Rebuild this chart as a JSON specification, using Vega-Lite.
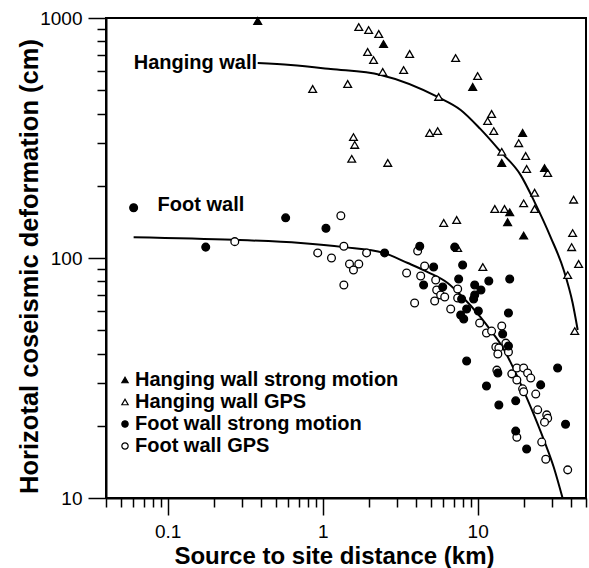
{
  "$schema": "https://vega.github.io/schema/vega-lite/v6.json",
  "width": 480,
  "height": 480,
  "autosize": {"type": "none"},
  "padding": {"left": 106, "top": 18, "right": 3, "bottom": 70},
  "background": "white",
  "config": {
    "view": {"stroke": "black", "strokeWidth": 2},
    "font": "Liberation Sans",
    "axis": {"grid": false}
  },
  "datasets": {
    "curves": [
      {"curve": "Hanging wall", "x": 0.381, "y": 649},
      {"curve": "Hanging wall", "x": 0.622, "y": 637},
      {"curve": "Hanging wall", "x": 1.126, "y": 613},
      {"curve": "Hanging wall", "x": 2.37, "y": 579},
      {"curve": "Hanging wall", "x": 5.52, "y": 469},
      {"curve": "Hanging wall", "x": 7.77, "y": 414},
      {"curve": "Hanging wall", "x": 10.4, "y": 345},
      {"curve": "Hanging wall", "x": 14.1, "y": 277},
      {"curve": "Hanging wall", "x": 18.9, "y": 222},
      {"curve": "Hanging wall", "x": 23.3, "y": 171},
      {"curve": "Hanging wall", "x": 29.6, "y": 122},
      {"curve": "Hanging wall", "x": 35.9, "y": 89.1},
      {"curve": "Hanging wall", "x": 41.0, "y": 64.9},
      {"curve": "Hanging wall", "x": 44.2, "y": 50.1},
      {"curve": "Foot wall", "x": 0.0603, "y": 122},
      {"curve": "Foot wall", "x": 0.267, "y": 119},
      {"curve": "Foot wall", "x": 0.721, "y": 115.5},
      {"curve": "Foot wall", "x": 1.37, "y": 111},
      {"curve": "Foot wall", "x": 2.47, "y": 105},
      {"curve": "Foot wall", "x": 3.54, "y": 95.3},
      {"curve": "Foot wall", "x": 4.76, "y": 87.4},
      {"curve": "Foot wall", "x": 6.40, "y": 78.7},
      {"curve": "Foot wall", "x": 7.77, "y": 70.1},
      {"curve": "Foot wall", "x": 10.4, "y": 56.8},
      {"curve": "Foot wall", "x": 12.1, "y": 50.1},
      {"curve": "Foot wall", "x": 14.7, "y": 41.8},
      {"curve": "Foot wall", "x": 18.1, "y": 31.9},
      {"curve": "Foot wall", "x": 22.0, "y": 23.9},
      {"curve": "Foot wall", "x": 26.7, "y": 17.5},
      {"curve": "Foot wall", "x": 30.9, "y": 13.5},
      {"curve": "Foot wall", "x": 35.3, "y": 10}
    ],
    "points": [
      {"series": "Hanging wall GPS", "x": 1.71, "y": 917},
      {"series": "Hanging wall GPS", "x": 1.98, "y": 891},
      {"series": "Hanging wall GPS", "x": 2.30, "y": 858},
      {"series": "Hanging wall GPS", "x": 1.95, "y": 722},
      {"series": "Hanging wall GPS", "x": 2.13, "y": 668},
      {"series": "Hanging wall GPS", "x": 3.64, "y": 708},
      {"series": "Hanging wall GPS", "x": 7.21, "y": 681},
      {"series": "Hanging wall GPS", "x": 2.44, "y": 596},
      {"series": "Hanging wall GPS", "x": 3.33, "y": 607},
      {"series": "Hanging wall GPS", "x": 10.0, "y": 573},
      {"series": "Hanging wall GPS", "x": 0.862, "y": 506},
      {"series": "Hanging wall GPS", "x": 1.45, "y": 531},
      {"series": "Hanging wall GPS", "x": 5.60, "y": 469},
      {"series": "Hanging wall GPS", "x": 12.3, "y": 398},
      {"series": "Hanging wall GPS", "x": 11.6, "y": 372},
      {"series": "Hanging wall GPS", "x": 12.7, "y": 338},
      {"series": "Hanging wall GPS", "x": 4.90, "y": 332},
      {"series": "Hanging wall GPS", "x": 5.52, "y": 338},
      {"series": "Hanging wall GPS", "x": 1.58, "y": 319},
      {"series": "Hanging wall GPS", "x": 1.61, "y": 296},
      {"series": "Hanging wall GPS", "x": 1.54, "y": 259},
      {"series": "Hanging wall GPS", "x": 2.63, "y": 249},
      {"series": "Hanging wall GPS", "x": 18.4, "y": 301},
      {"series": "Hanging wall GPS", "x": 14.3, "y": 277},
      {"series": "Hanging wall GPS", "x": 20.4, "y": 266},
      {"series": "Hanging wall GPS", "x": 20.7, "y": 235},
      {"series": "Hanging wall GPS", "x": 28.3, "y": 226},
      {"series": "Hanging wall GPS", "x": 23.3, "y": 187},
      {"series": "Hanging wall GPS", "x": 19.8, "y": 169},
      {"series": "Hanging wall GPS", "x": 23.3, "y": 160},
      {"series": "Hanging wall GPS", "x": 41.6, "y": 175},
      {"series": "Hanging wall GPS", "x": 12.9, "y": 160},
      {"series": "Hanging wall GPS", "x": 14.9, "y": 160},
      {"series": "Hanging wall GPS", "x": 6.04, "y": 140},
      {"series": "Hanging wall GPS", "x": 7.32, "y": 144},
      {"series": "Hanging wall GPS", "x": 41.0, "y": 127},
      {"series": "Hanging wall GPS", "x": 40.4, "y": 111},
      {"series": "Hanging wall GPS", "x": 44.8, "y": 94.4},
      {"series": "Hanging wall GPS", "x": 10.8, "y": 91.7},
      {"series": "Hanging wall GPS", "x": 38.1, "y": 84.9},
      {"series": "Hanging wall GPS", "x": 42.3, "y": 49.6},
      {"series": "Hanging wall GPS", "x": 7.43, "y": 110},
      {"series": "Foot wall GPS", "x": 0.271, "y": 117},
      {"series": "Foot wall GPS", "x": 1.31, "y": 150},
      {"series": "Foot wall GPS", "x": 1.37, "y": 112},
      {"series": "Foot wall GPS", "x": 0.929, "y": 105},
      {"series": "Foot wall GPS", "x": 1.14, "y": 100},
      {"series": "Foot wall GPS", "x": 1.49, "y": 94.4},
      {"series": "Foot wall GPS", "x": 1.71, "y": 94.4},
      {"series": "Foot wall GPS", "x": 1.58, "y": 89.1},
      {"series": "Foot wall GPS", "x": 1.37, "y": 77.2},
      {"series": "Foot wall GPS", "x": 1.92, "y": 105},
      {"series": "Foot wall GPS", "x": 4.10, "y": 107},
      {"series": "Foot wall GPS", "x": 3.48, "y": 86.6},
      {"series": "Foot wall GPS", "x": 4.55, "y": 92.6},
      {"series": "Foot wall GPS", "x": 4.29, "y": 84.1},
      {"series": "Foot wall GPS", "x": 5.36, "y": 81.0},
      {"series": "Foot wall GPS", "x": 5.44, "y": 73.6},
      {"series": "Foot wall GPS", "x": 5.77, "y": 70.1},
      {"series": "Foot wall GPS", "x": 6.13, "y": 68.8},
      {"series": "Foot wall GPS", "x": 3.92, "y": 64.9},
      {"series": "Foot wall GPS", "x": 5.28, "y": 66.2},
      {"series": "Foot wall GPS", "x": 6.70, "y": 61.3},
      {"series": "Foot wall GPS", "x": 7.43, "y": 74.3},
      {"series": "Foot wall GPS", "x": 7.43, "y": 68.1},
      {"series": "Foot wall GPS", "x": 10.3, "y": 53.6},
      {"series": "Foot wall GPS", "x": 14.3, "y": 52.1},
      {"series": "Foot wall GPS", "x": 11.4, "y": 48.7},
      {"series": "Foot wall GPS", "x": 12.3, "y": 49.6},
      {"series": "Foot wall GPS", "x": 13.1, "y": 42.6},
      {"series": "Foot wall GPS", "x": 13.7, "y": 42.2},
      {"series": "Foot wall GPS", "x": 13.5, "y": 39.8},
      {"series": "Foot wall GPS", "x": 15.2, "y": 44.2},
      {"series": "Foot wall GPS", "x": 15.8, "y": 40.6},
      {"series": "Foot wall GPS", "x": 16.6, "y": 32.9},
      {"series": "Foot wall GPS", "x": 17.9, "y": 34.8},
      {"series": "Foot wall GPS", "x": 19.8, "y": 34.8},
      {"series": "Foot wall GPS", "x": 21.0, "y": 33.2},
      {"series": "Foot wall GPS", "x": 22.0, "y": 31.6},
      {"series": "Foot wall GPS", "x": 17.9, "y": 31.0},
      {"series": "Foot wall GPS", "x": 19.5, "y": 28.5},
      {"series": "Foot wall GPS", "x": 19.8, "y": 27.7},
      {"series": "Foot wall GPS", "x": 23.7, "y": 27.1},
      {"series": "Foot wall GPS", "x": 24.4, "y": 23.3},
      {"series": "Foot wall GPS", "x": 27.9, "y": 22.2},
      {"series": "Foot wall GPS", "x": 28.3, "y": 21.5},
      {"series": "Foot wall GPS", "x": 27.0, "y": 20.7},
      {"series": "Foot wall GPS", "x": 17.9, "y": 17.9},
      {"series": "Foot wall GPS", "x": 25.9, "y": 17.1},
      {"series": "Foot wall GPS", "x": 27.5, "y": 14.5},
      {"series": "Foot wall GPS", "x": 38.1, "y": 13.1},
      {"series": "Foot wall GPS", "x": 13.3, "y": 34.1},
      {"series": "Hanging wall strong motion", "x": 0.381, "y": 972},
      {"series": "Hanging wall strong motion", "x": 2.47, "y": 779},
      {"series": "Hanging wall strong motion", "x": 9.29, "y": 516},
      {"series": "Hanging wall strong motion", "x": 19.5, "y": 332},
      {"series": "Hanging wall strong motion", "x": 14.3, "y": 249},
      {"series": "Hanging wall strong motion", "x": 27.0, "y": 237},
      {"series": "Hanging wall strong motion", "x": 16.1, "y": 155},
      {"series": "Hanging wall strong motion", "x": 15.6, "y": 141},
      {"series": "Hanging wall strong motion", "x": 19.8, "y": 124},
      {"series": "Foot wall strong motion", "x": 0.0603, "y": 162},
      {"series": "Foot wall strong motion", "x": 0.176, "y": 111},
      {"series": "Foot wall strong motion", "x": 0.577, "y": 147},
      {"series": "Foot wall strong motion", "x": 1.05, "y": 133},
      {"series": "Foot wall strong motion", "x": 2.51, "y": 105},
      {"series": "Foot wall strong motion", "x": 4.23, "y": 112},
      {"series": "Foot wall strong motion", "x": 7.11, "y": 111},
      {"series": "Foot wall strong motion", "x": 5.20, "y": 91.7},
      {"series": "Foot wall strong motion", "x": 4.48, "y": 77.2},
      {"series": "Foot wall strong motion", "x": 5.95, "y": 75.7},
      {"series": "Foot wall strong motion", "x": 8.0, "y": 93.5},
      {"series": "Foot wall strong motion", "x": 7.54, "y": 81.7},
      {"series": "Foot wall strong motion", "x": 11.8, "y": 80.2},
      {"series": "Foot wall strong motion", "x": 16.1, "y": 81.7},
      {"series": "Foot wall strong motion", "x": 9.57, "y": 77.2},
      {"series": "Foot wall strong motion", "x": 10.5, "y": 73.6},
      {"series": "Foot wall strong motion", "x": 9.57, "y": 70.1},
      {"series": "Foot wall strong motion", "x": 9.42, "y": 67.5},
      {"series": "Foot wall strong motion", "x": 7.88, "y": 67.5},
      {"series": "Foot wall strong motion", "x": 8.49, "y": 61.3},
      {"series": "Foot wall strong motion", "x": 10.1, "y": 60.1},
      {"series": "Foot wall strong motion", "x": 7.77, "y": 57.9},
      {"series": "Foot wall strong motion", "x": 8.13, "y": 55.7},
      {"series": "Foot wall strong motion", "x": 15.8, "y": 59.0},
      {"series": "Foot wall strong motion", "x": 14.5, "y": 48.2},
      {"series": "Foot wall strong motion", "x": 15.8, "y": 43.0},
      {"series": "Foot wall strong motion", "x": 8.49, "y": 37.2},
      {"series": "Foot wall strong motion", "x": 32.8, "y": 34.8},
      {"series": "Foot wall strong motion", "x": 13.5, "y": 33.2},
      {"series": "Foot wall strong motion", "x": 11.4, "y": 29.3},
      {"series": "Foot wall strong motion", "x": 25.5, "y": 29.6},
      {"series": "Foot wall strong motion", "x": 17.6, "y": 25.4},
      {"series": "Foot wall strong motion", "x": 13.7, "y": 24.4},
      {"series": "Foot wall strong motion", "x": 36.9, "y": 20.3},
      {"series": "Foot wall strong motion", "x": 17.6, "y": 19.0},
      {"series": "Foot wall strong motion", "x": 20.7, "y": 16.0}
    ],
    "labels": [
      {"label": "Hanging wall", "x": 0.0604, "y": 649},
      {"label": "Foot wall", "x": 0.0861, "y": 166}
    ]
  },
  "resolve": {"axis": {"x": "independent", "y": "independent"}},
  "layer": [
    {
      "data": {"name": "curves"},
      "mark": {"type": "line", "color": "black", "strokeWidth": 2, "interpolate": "monotone"},
      "encoding": {
        "x": {
          "field": "x",
          "type": "quantitative",
          "scale": {"type": "log", "domain": [0.04, 50], "nice": false},
          "axis": {
            "orient": "bottom",
            "title": "Source to site distance (km)",
            "values": [0.1, 1, 10],
            "labelExpr": "datum.value == 0.1 ? '0.1' : datum.value == 1 ? '1' : '10'",
            "ticks": true,
            "tickSize": 17,
            "tickColor": "black",
            "tickWidth": 1.5,
            "domainColor": "black",
            "domainWidth": 2,
            "labelOverlap": false,
            "labelFlush": false,
            "labelFont": "Liberation Sans",
            "labelFontSize": 19,
            "labelColor": "black",
            "labelPadding": 7,
            "titleFont": "Liberation Sans",
            "titleFontSize": 24,
            "titleFontWeight": "bold",
            "titleColor": "black",
            "titleBaseline": "alphabetic",
            "titleX": 228,
            "titleY": 65
          }
        },
        "y": {
          "field": "y",
          "type": "quantitative",
          "scale": {"type": "log", "domain": [10, 1000], "nice": false},
          "axis": {
            "orient": "left",
            "title": "Horizotal coseismic deformation (cm)",
            "values": [10, 100, 1000],
            "labelExpr": "datum.value == 10 ? '10' : datum.value == 100 ? '100' : '1000'",
            "ticks": true,
            "tickSize": 18,
            "tickColor": "black",
            "tickWidth": 1.5,
            "domainColor": "black",
            "domainWidth": 2,
            "labelOverlap": false,
            "labelFlush": false,
            "labelFont": "Liberation Sans",
            "labelFontSize": 19,
            "labelColor": "black",
            "labelPadding": 6,
            "titleFont": "Liberation Sans",
            "titleFontSize": 25.5,
            "titleFontWeight": "bold",
            "titleColor": "black",
            "titleAngle": 270,
            "titleAlign": "center",
            "titleBaseline": "alphabetic",
            "titleX": -69,
            "titleY": 248
          }
        },
        "detail": {"field": "curve"}
      }
    },
    {
      "data": {"name": "points"},
      "mark": {"type": "point", "filled": true, "strokeWidth": 1.3, "size": 60, "opacity": 1},
      "encoding": {
        "x": {
          "field": "x",
          "type": "quantitative",
          "axis": {
            "orient": "bottom",
            "title": null,
            "values": [0.04, 0.05, 0.06, 0.07, 0.08, 0.09, 0.2, 0.3, 0.4, 0.5, 0.6, 0.7, 0.8, 0.9, 2, 3, 4, 5, 6, 7, 8, 9, 20, 30, 40, 50],
            "labels": false,
            "ticks": true,
            "tickSize": 9,
            "tickColor": "black",
            "tickWidth": 1.5,
            "domain": false
          }
        },
        "y": {
          "field": "y",
          "type": "quantitative",
          "axis": {
            "orient": "left",
            "title": null,
            "values": [20, 30, 40, 50, 60, 70, 80, 90, 200, 300, 400, 500, 600, 700, 800, 900],
            "labels": false,
            "ticks": true,
            "tickSize": 9,
            "tickColor": "black",
            "tickWidth": 1.5,
            "domain": false
          }
        },
        "shape": {
          "field": "series",
          "type": "nominal",
          "scale": {"domain": ["Hanging wall strong motion", "Hanging wall GPS", "Foot wall strong motion", "Foot wall GPS"], "range": ["triangle-up", "triangle-up", "circle", "circle"]},
          "legend": {"orient": "none", "legendX": 9, "legendY": 352, "title": null, "labelFont": "Liberation Sans", "labelFontSize": 20, "labelFontWeight": "bold", "labelColor": "black", "labelLimit": 0, "symbolSize": 40, "symbolStrokeWidth": 1.2, "rowPadding": 2, "labelOffset": 0, "padding": 0}
        },
        "fill": {
          "field": "series",
          "type": "nominal",
          "scale": {"domain": ["Hanging wall strong motion", "Hanging wall GPS", "Foot wall strong motion", "Foot wall GPS"], "range": ["black", "white", "black", "white"]},
          "legend": {"orient": "none", "legendX": 9, "legendY": 352, "title": null, "labelFont": "Liberation Sans", "labelFontSize": 20, "labelFontWeight": "bold", "labelColor": "black", "labelLimit": 0, "symbolSize": 40, "symbolStrokeWidth": 1.2, "rowPadding": 2, "labelOffset": 0, "padding": 0}
        },
        "stroke": {
          "field": "series",
          "type": "nominal",
          "scale": {"domain": ["Hanging wall strong motion", "Hanging wall GPS", "Foot wall strong motion", "Foot wall GPS"], "range": ["black", "black", "black", "black"]},
          "legend": {"orient": "none", "legendX": 9, "legendY": 352, "title": null, "labelFont": "Liberation Sans", "labelFontSize": 20, "labelFontWeight": "bold", "labelColor": "black", "labelLimit": 0, "symbolSize": 40, "symbolStrokeWidth": 1.2, "rowPadding": 2, "labelOffset": 0, "padding": 0}
        }
      }
    },
    {
      "data": {"name": "labels"},
      "mark": {"type": "text", "align": "left", "baseline": "middle", "font": "Liberation Sans", "fontSize": 20, "fontWeight": "bold", "color": "black"},
      "encoding": {
        "x": {"field": "x", "type": "quantitative", "axis": null},
        "y": {"field": "y", "type": "quantitative", "axis": null},
        "text": {"field": "label"}
      }
    }
  ]
}
